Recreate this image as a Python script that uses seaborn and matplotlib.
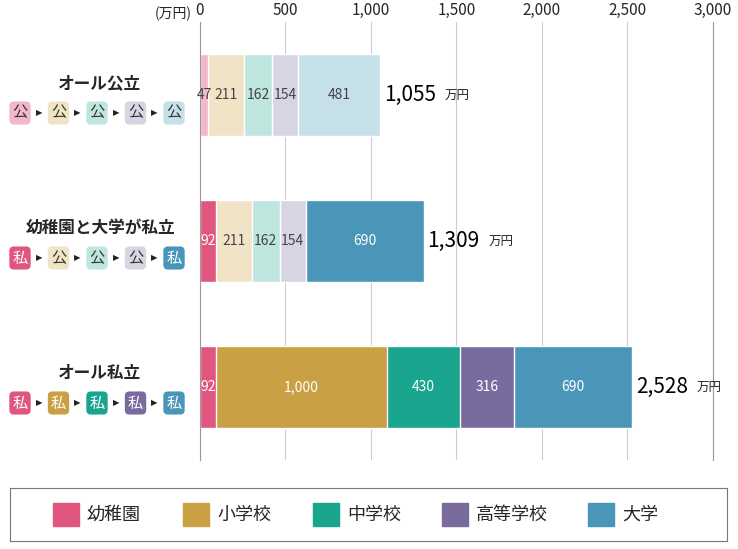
import matplotlib
matplotlib.use("Agg")
import matplotlib.pyplot as plt
from matplotlib import font_manager as fm
import seaborn as sns
import pandas as pd
import numpy as np
import glob

routes = ["オール公立", "幼稚園と大学が私立", "オール私立"]
stages = ["幼稚園", "小学校", "中学校", "高等学校", "大学"]
values = [[47, 211, 162, 154, 481],
          [92, 211, 162, 154, 690],
          [92, 1000, 430, 316, 690]]
totals = ["1,055", "1,309", "2,528"]
chips = [["公", "公", "公", "公", "公"],
         ["私", "公", "公", "公", "私"],
         ["私", "私", "私", "私", "私"]]
xticks = [0, 500, 1000, 1500, 2000, 2500, 3000]

priv = ["#e0567e", "#c9a043", "#1aa58f", "#7a6b9e", "#4a96b9"]
pub = ["#f2b8c9", "#f1e3c6", "#bfe6de", "#d9d4e4", "#c6e0ea"]

fam = "Noto Sans CJK JP"
for p in glob.glob("/usr/share/fonts/**/*CJK*", recursive=True) + glob.glob("/usr/local/share/fonts/**/*CJK*", recursive=True):
    try:
        fm.fontManager.addfont(p)
    except Exception:
        pass
names = {f.name for f in fm.fontManager.ttflist}
for cand in ["Noto Sans CJK JP", "Noto Sans CJK SC", "Noto Sans JP"]:
    if cand in names:
        fam = cand
        break
sns.set_style("white")
plt.rcParams["font.family"] = [fam, "DejaVu Sans"]
fig = plt.figure(figsize=(7.38, 5.49), dpi=100)
ax = fig.add_axes([200/738, 1-460/549, 513/738, 438/549])

vals = np.array(values, dtype=float)
cum = vals.cumsum(axis=1)
df = pd.DataFrame({"route": routes})
for j in reversed(range(5)):
    df["c"] = cum[:, j]
    cols = {}
    for i, r in enumerate(routes):
        cols[r] = priv[j] if chips[i][j] == "私" else pub[j]
    sns.barplot(data=df, y="route", x="c", hue="route", palette=cols,
                orient="h", width=0.56, ax=ax, legend=False, saturation=1)
for i in range(3):
    for j in range(5):
        c = cum[i, j] - vals[i, j] / 2
        txt = f"{values[i][j]:,}"
        ax.text(c, i, txt, ha="center", va="center", fontsize=10,
                color="white" if chips[i][j] == "私" else "#444444")
    ax.text(cum[i, -1] + 20, i, totals[i], ha="left", va="center", fontsize=15, color="black")
    ax.annotate("万円", (cum[i, -1] + 20, i), xytext=(len(totals[i]) * 8.6 + 1, -1),
                textcoords="offset points", ha="left", va="center", fontsize=9)
ax.set_xlim(0, 3000)
ax.set_ylim(2.5, -0.5)
ax.set_xticks(xticks)
ax.set_xticklabels([f"{t:,}" for t in xticks], fontsize=11)
ax.xaxis.tick_top()
ax.tick_params(axis="x", length=0, pad=2)
ax.set_yticks([])
ax.set_xlabel(""); ax.set_ylabel("")
ax.grid(axis="x", color="#cccccc", lw=0.8)
ax.set_axisbelow(True)
for s in ["top", "bottom"]:
    ax.spines[s].set_visible(False)
for s in ["left", "right"]:
    ax.spines[s].set_color("#999999")
fig.text(155/738, 1-14/549, "(万円)", fontsize=10, ha="left", va="center")

ycent = [99, 244, 389]
for i, r in enumerate(routes):
    yl = 1 - (ycent[i] - 16) / 549
    fig.text(100/738, yl, r, fontsize=12, fontweight="bold", ha="center", va="center")
    yc = 1 - (ycent[i] + 14) / 549
    for j in range(5):
        x = (20 + j * 38.5) / 738
        face = priv[j] if chips[i][j] == "私" else pub[j]
        fig.text(x, yc, chips[i][j], fontsize=11, ha="center", va="center",
                 color="white" if chips[i][j] == "私" else "#333333",
                 bbox=dict(boxstyle="round,pad=0.2,rounding_size=0.3", fc=face, ec="none"))
        if j < 4:
            fig.text(x + 19/738, yc, "▶", fontsize=6, ha="center", va="center",
                     color="#222222", fontfamily="DejaVu Sans")

lax = fig.add_axes([10/738, 1-541/549, 717/738, 53/549])
lax.set_xlim(0, 717); lax.set_ylim(0, 53)
lax.set_xticks([]); lax.set_yticks([])
for s in lax.spines.values():
    s.set_color("#777777")
lx = [43, 173, 303, 432, 578]
for j in range(5):
    lax.add_patch(plt.Rectangle((lx[j], 15), 26, 23, color=priv[j]))
    lax.text(lx[j] + 34, 26.5, stages[j], fontsize=13, va="center", ha="left")

fig.savefig("out.png", dpi=100)
